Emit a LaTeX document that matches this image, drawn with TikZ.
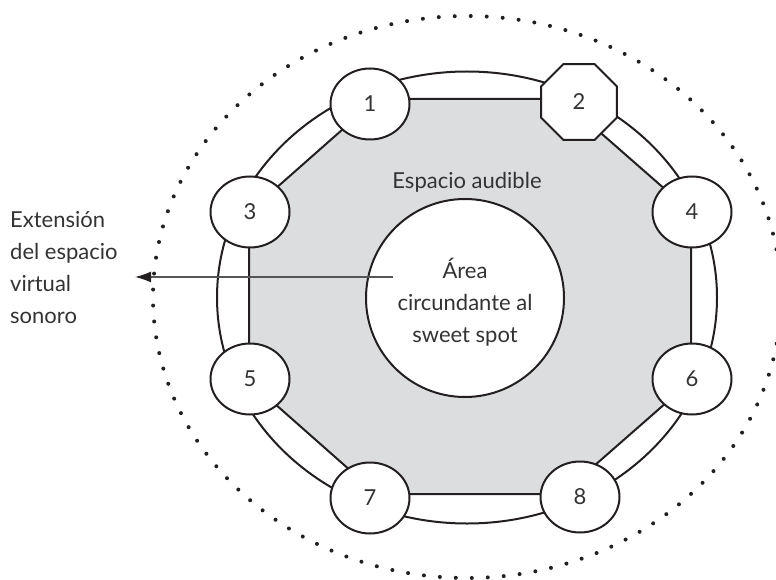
\documentclass[tikz,border=0pt]{standalone}
\usepackage{fontspec}
\setmainfont{Lato}
\usetikzlibrary{shapes.geometric,arrows.meta}
\definecolor{fillgray}{HTML}{DCDDDF}
\definecolor{ink}{HTML}{231F20}
\definecolor{txt}{HTML}{333333}
\definecolor{arrowgray}{HTML}{555555}
\begin{document}
\begin{tikzpicture}[x=1pt,y=-1pt,
  spk/.style={ellipse,draw=ink,line width=2pt,fill=white,minimum width=79pt,minimum height=71pt,inner sep=0pt,text=txt,font=\fontsize{22}{26}\selectfont},
  spkoct/.style={regular polygon,regular polygon sides=8,draw=ink,line width=2pt,fill=white,minimum size=82pt,inner sep=0pt,text=txt,font=\fontsize{22}{26}\selectfont},
  lbl/.style={text=txt,font=\fontsize{22}{32}\selectfont,inner sep=0pt},
  ring/.style={draw=ink,line width=2pt}]
\useasboundingbox (0,0) rectangle (776,580);
% outer ring arc
\draw[ring] (467,297.5) ellipse [x radius=250pt, y radius=226pt];
% audible space polygon
\draw[ring,fill=fillgray] (377,99) -- (562,99) -- (691,212) -- (691,381) -- (562,494) -- (377,494) -- (249,381) -- (249,212) -- cycle;
% sweet spot
\node[circle,ring,fill=white,minimum size=198pt,inner sep=0pt] (sweet) at (465,298) {};
\node[lbl,align=center] (sweettxt) at (465,302) {Área\\circundante al\\sweet spot};
\node[lbl,anchor=base] (aud) at (467,189) {Espacio audible};
% speakers
\node[spk] (s1) at (370,104) {1};
\node[spkoct] (s2) at (579,102) {2};
\node[spk] (s3) at (250,212) {3};
\node[spk] (s4) at (692,212) {4};
\node[spk] (s5) at (250,379) {5};
\node[spk] (s6) at (692,379) {6};
\node[spk] (s7) at (370,498) {7};
\node[spk] (s8) at (580,497) {8};
% dotted extension
\draw[ink,line width=4pt,line cap=round,dash pattern=on 0pt off 16pt] (467,297) ellipse [x radius=314pt, y radius=281pt];
% arrow
\coordinate (astart) at (393,277);
\coordinate (aend) at (135,277);
\draw[arrowgray,line width=1.4pt,-{Latex[length=16pt,width=11pt,color=ink]}] (astart) -- (aend);
\node[lbl,align=left,anchor=north west] (ext) at (10,211) {Extensión\\del espacio\\virtual\\sonoro};
\end{tikzpicture}
\end{document}
